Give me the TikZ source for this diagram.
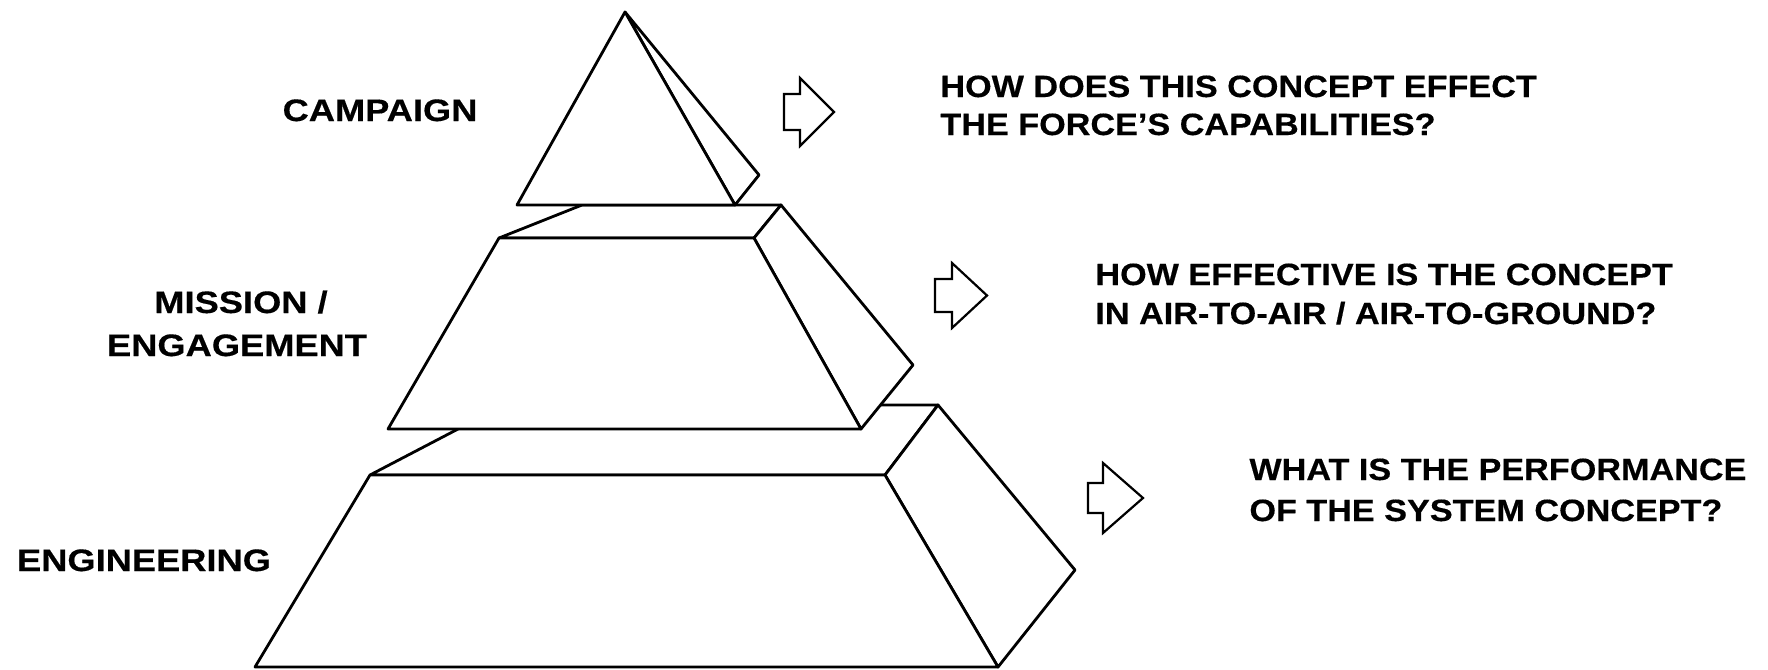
\documentclass[tikz,border=0pt]{standalone}
\usepackage{fontspec}
\newfontfamily\qfont{Liberation Sans}[FakeStretch=1.11,FakeBold=0.4]
\newfontfamily\lfont{Liberation Sans}[FakeStretch=1.17,FakeBold=0.4]
\begin{document}
\begin{tikzpicture}[x=1pt,y=-1pt,line width=2.8pt,line join=round,
  face/.style={draw=black,fill=white},
  hollow/.style={draw=black,fill=white,line width=2.2pt,line join=miter},
  lab/.style={font=\lfont\bfseries\fontsize{31}{37}\selectfont,inner sep=0pt,anchor=base},
  ques/.style={font=\qfont\bfseries\fontsize{30.8}{36}\selectfont,inner sep=0pt,anchor=base west}]
\useasboundingbox (0,0) rectangle (1768,669);
% bottom layer
\coordinate (b1) at (255,667);
\coordinate (b2) at (998,667);
\coordinate (b3) at (885,475);
\coordinate (b4) at (370,475);
\coordinate (b5) at (504,405);
\coordinate (b6) at (938,405);
\coordinate (b7) at (1075,570);
\draw[face] (b4)--(b5)--(b6)--(b3)--cycle;
\draw[face] (b3)--(b6)--(b7)--(b2)--cycle;
\draw[face] (b1)--(b2)--(b3)--(b4)--cycle;
% middle layer
\coordinate (m1) at (388,429);
\coordinate (m2) at (861,429);
\coordinate (m3) at (754,238);
\coordinate (m4) at (499,238);
\coordinate (m5) at (582,205);
\coordinate (m6) at (781,205);
\coordinate (m7) at (913,365);
\draw[face] (m4)--(m5)--(m6)--(m3)--cycle;
\draw[face] (m3)--(m6)--(m7)--(m2)--cycle;
\draw[face] (m1)--(m2)--(m3)--(m4)--cycle;
% top layer
\coordinate (t0) at (625,12);
\coordinate (t1) at (517,205);
\coordinate (t2) at (735,205);
\coordinate (t3) at (759,175);
\draw[face] (t0)--(t3)--(t2)--cycle;
\draw[face] (t0)--(t1)--(t2)--cycle;
% hollow arrows
\draw[hollow] (784,94)--(800,94)--(800,78)--(834,112)--(800,146)--(800,130)--(784,130)--cycle;
\draw[hollow] (935,279)--(952,279)--(952,263)--(987,295.5)--(952,328)--(952,312)--(935,312)--cycle;
\draw[hollow] (1088,483)--(1103,483)--(1103,463)--(1143,498)--(1103,533)--(1103,513)--(1088,513)--cycle;
% labels
\node[lab] (campaign) at (380,121) {CAMPAIGN};
\node[lab] (mission) at (241,313) {MISSION /};
\node[lab] (engagement) at (237,356) {ENGAGEMENT};
\node[lab] (engineering) at (144,571) {ENGINEERING};
% questions
\node[ques] (q1a) at (939,97) {HOW DOES THIS CONCEPT EFFECT};
\node[ques] (q1b) at (939,135) {THE FORCE’S CAPABILITIES?};
\node[ques] (q2a) at (1094,285) {HOW EFFECTIVE IS THE CONCEPT};
\node[ques] (q2b) at (1094,324) {IN AIR-TO-AIR / AIR-TO-GROUND?};
\node[ques] (q3a) at (1248,480) {WHAT IS THE PERFORMANCE};
\node[ques] (q3b) at (1248,521) {OF THE SYSTEM CONCEPT?};
\end{tikzpicture}
\end{document}
